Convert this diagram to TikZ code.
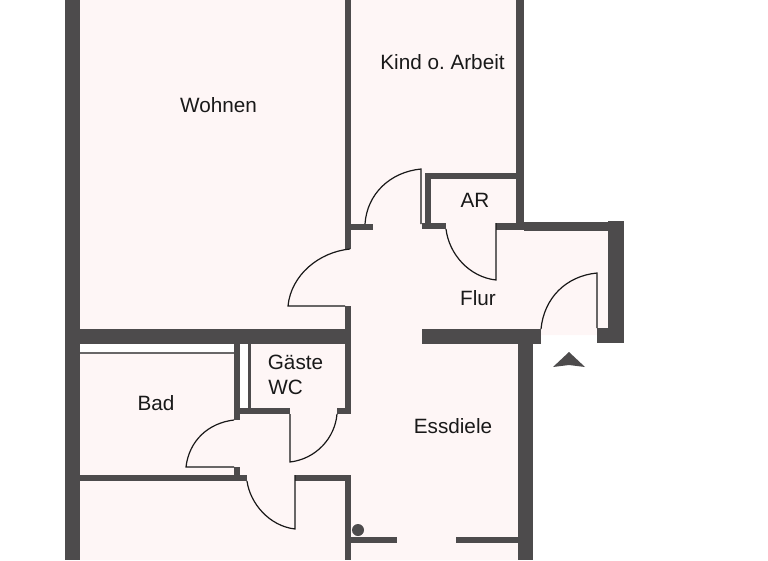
\documentclass[tikz,border=0pt]{standalone}
\usepackage{fontspec}
\setmainfont{Liberation Sans}
\usepackage{tikz}
\definecolor{wallgray}{RGB}{77, 75, 76}
\definecolor{floorpink}{RGB}{254, 246, 246}
\definecolor{trimgray}{RGB}{105, 103, 104}
\tikzset{
  room/.style={anchor=base, inner sep=0pt, font=\fontsize{20.7}{24}\selectfont, text=black!90},
  leaf/.style={draw=black!90, line width=1.2pt}
}

\begin{document}
\begin{tikzpicture}[x=1pt, y=-1pt]
            \useasboundingbox (0,0) rectangle (768,560);
            % floor
            \fill[floorpink] (80,0) -- (518,0) -- (518,224) -- (608,224) -- (608,335) -- (541,335) -- (541,344) -- (520,344) -- (520,560) -- (80,560) -- cycle;
            \fill[white]     (80,344)  rectangle (234,352);
            \fill[white]     (240,344) rectangle (248,408);
            \fill[trimgray]  (80,352)  rectangle (234,354);
            % outer walls
            \fill[wallgray]  (65,0)    rectangle (80,560);
            \fill[wallgray]  (65,329)  rectangle (351,344);
            \fill[wallgray]  (516,0)   rectangle (524,230);
            \fill[wallgray]  (496,223) rectangle (524,230);
            \fill[wallgray]  (524,222) rectangle (608,231);
            \fill[wallgray]  (608,221) rectangle (624,343);
            \fill[wallgray]  (597,328) rectangle (624,343);
            \fill[wallgray]  (422,329) rectangle (541,344);
            \fill[wallgray]  (518,344) rectangle (533,560);
            % inner walls
            \fill[wallgray]  (345,0)   rectangle (351,249);
            \fill[wallgray]  (345,224) rectangle (373,230);
            \fill[wallgray]  (345,306) rectangle (351,414);
            \fill[wallgray]  (337,408) rectangle (351,414);
            \fill[wallgray]  (425,173) rectangle (516,179);
            \fill[wallgray]  (425,173) rectangle (431,229);
            \fill[wallgray]  (422,223) rectangle (446,229);
            \fill[wallgray]  (234,344) rectangle (240,420);
            \fill[wallgray]  (248,344) rectangle (251,408);
            \fill[wallgray]  (240,408) rectangle (290,414);
            \fill[wallgray]  (234,467) rectangle (240,475);
            \fill[wallgray]  (80,475)  rectangle (247,481);
            \fill[wallgray]  (295,475) rectangle (351,481);
            \fill[wallgray]  (345,475) rectangle (351,560);
            \fill[wallgray]  (351,537) rectangle (397,543);
            \fill[wallgray]  (456,537) rectangle (518,543);
            \fill[wallgray]  (358,530) circle (6);
            % doors
            \draw[leaf] (421,224) -- (421,169) .. controls (390,172) and (367,194) .. (365,224);
            \draw[leaf] (496,223) -- (496,280) .. controls (469,277) and (449,254) .. (446,229);
            \draw[leaf] (597,328) -- (597,273) .. controls (566,276) and (544,298) .. (541,329);
            \draw[leaf] (345,306) -- (288,306) .. controls (291,275) and (319,252) .. (350,249);
            \draw[leaf] (290,414) -- (290,462) .. controls (316,459) and (335,438) .. (337,414);
            \draw[leaf] (234,467) -- (186,467) .. controls (189,441) and (208,423) .. (234,420);
            \draw[leaf] (295,475) -- (295,529) .. controls (269,526) and (250,503) .. (247,481);
            % entrance mark
            \fill[wallgray] (569,352) -- (585,367) -- (569,365) -- (553,367) -- cycle;
            % rooms
            \node[room] (wohnen) at (218.5,112) {Wohnen};
            \node[room] (kind)   at (442.5,69)  {Kind o.\ Arbeit};
            \node[room] (ar)     at (475,207.5) {AR};
            \node[room] (flur)   at (478,305.5) {Flur};
            \node[room] (gaeste) at (295.5,369) {Gäste};
            \node[room] (wc)     at (285.5,394) {WC};
            \node[room] (bad)    at (156,410)   {Bad};
            \node[room] (diele)  at (453,433)   {Essdiele};
\end{tikzpicture}
\end{document}
